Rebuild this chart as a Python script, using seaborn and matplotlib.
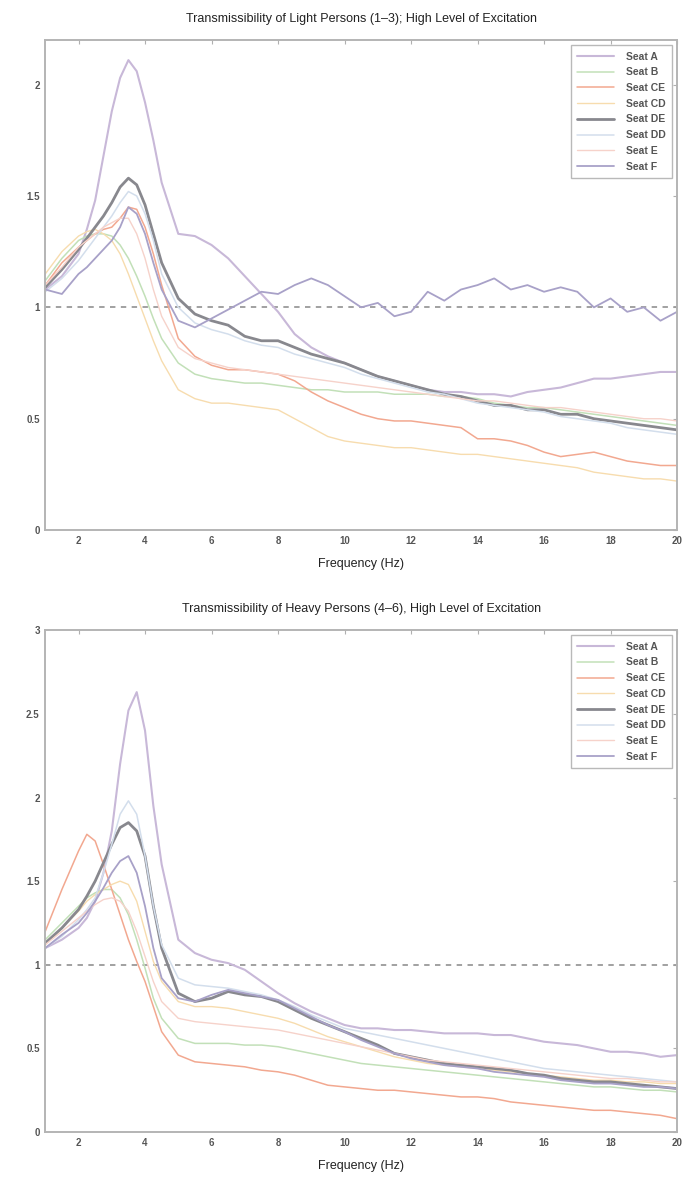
import matplotlib
matplotlib.use('Agg')
import matplotlib.pyplot as plt
import seaborn as sns
from matplotlib.ticker import FuncFormatter

# frequency grid (Hz) shared by every curve
freq = [1, 1.5, 2, 2.25, 2.5, 2.75, 3, 3.25, 3.5, 3.75, 4, 4.25, 4.5,
        5, 5.5, 6, 6.5, 7, 7.5, 8, 8.5, 9, 9.5, 10, 10.5, 11, 11.5, 12, 12.5,
        13, 13.5, 14, 14.5, 15, 15.5, 16, 16.5, 17, 17.5, 18, 18.5, 19, 19.5, 20]

seats = ['Seat A', 'Seat B', 'Seat CE', 'Seat CD', 'Seat DE', 'Seat DD', 'Seat E', 'Seat F']

# light persons (1-3)
light_a = [1.08, 1.14, 1.24, 1.35, 1.48, 1.68, 1.88, 2.03, 2.11, 2.06, 1.92, 1.75, 1.56,
           1.33, 1.32, 1.28, 1.22, 1.14, 1.06, 0.98, 0.88, 0.82, 0.78, 0.75, 0.72, 0.69, 0.67,
           0.65, 0.63, 0.62, 0.62, 0.61, 0.61, 0.60, 0.62, 0.63, 0.64, 0.66, 0.68, 0.68, 0.69,
           0.70, 0.71, 0.71]
light_b = [1.12, 1.22, 1.30, 1.32, 1.33, 1.33, 1.32, 1.28, 1.22, 1.14, 1.05, 0.95, 0.86,
           0.75, 0.70, 0.68, 0.67, 0.66, 0.66, 0.65, 0.64, 0.63, 0.63, 0.62, 0.62, 0.62, 0.61,
           0.61, 0.61, 0.60, 0.60, 0.59, 0.57, 0.56, 0.55, 0.55, 0.54, 0.53, 0.52, 0.51, 0.50,
           0.49, 0.48, 0.47]
light_ce = [1.10, 1.20, 1.27, 1.30, 1.33, 1.35, 1.36, 1.40, 1.45, 1.44, 1.36, 1.24, 1.10,
            0.86, 0.78, 0.74, 0.72, 0.72, 0.71, 0.70, 0.67, 0.62, 0.58, 0.55, 0.52, 0.50, 0.49,
            0.49, 0.48, 0.47, 0.46, 0.41, 0.41, 0.40, 0.38, 0.35, 0.33, 0.34, 0.35, 0.33, 0.31,
            0.30, 0.29, 0.29]
light_cd = [1.15, 1.25, 1.32, 1.34, 1.35, 1.33, 1.30, 1.24, 1.15, 1.05, 0.95, 0.85, 0.76,
            0.63, 0.59, 0.57, 0.57, 0.56, 0.55, 0.54, 0.50, 0.46, 0.42, 0.40, 0.39, 0.38, 0.37,
            0.37, 0.36, 0.35, 0.34, 0.34, 0.33, 0.32, 0.31, 0.30, 0.29, 0.28, 0.26, 0.25, 0.24,
            0.23, 0.23, 0.22]
light_de = [1.09, 1.17, 1.26, 1.31, 1.36, 1.41, 1.47, 1.54, 1.58, 1.55, 1.46, 1.33, 1.20,
            1.04, 0.97, 0.94, 0.92, 0.87, 0.85, 0.85, 0.82, 0.79, 0.77, 0.75, 0.72, 0.69, 0.67,
            0.65, 0.63, 0.61, 0.60, 0.58, 0.56, 0.56, 0.54, 0.54, 0.52, 0.52, 0.50, 0.49, 0.48,
            0.47, 0.46, 0.45]
light_dd = [1.07, 1.13, 1.21, 1.26, 1.31, 1.36, 1.41, 1.47, 1.52, 1.50, 1.42, 1.30, 1.15,
            1.00, 0.93, 0.90, 0.88, 0.85, 0.83, 0.82, 0.79, 0.77, 0.75, 0.73, 0.70, 0.68, 0.66,
            0.64, 0.62, 0.61, 0.59, 0.57, 0.56, 0.55, 0.54, 0.53, 0.51, 0.50, 0.49, 0.48, 0.46,
            0.45, 0.44, 0.43]
light_e = [1.10, 1.18, 1.27, 1.30, 1.33, 1.36, 1.38, 1.40, 1.40, 1.33, 1.22, 1.08, 0.96,
           0.82, 0.77, 0.75, 0.73, 0.72, 0.71, 0.70, 0.69, 0.68, 0.67, 0.66, 0.65, 0.64, 0.63,
           0.62, 0.61, 0.60, 0.59, 0.58, 0.58, 0.57, 0.56, 0.55, 0.55, 0.54, 0.53, 0.52, 0.51,
           0.50, 0.50, 0.49]
light_f = [1.08, 1.06, 1.15, 1.18, 1.22, 1.26, 1.30, 1.36, 1.45, 1.42, 1.33, 1.20, 1.08,
           0.94, 0.91, 0.95, 0.99, 1.03, 1.07, 1.06, 1.10, 1.13, 1.10, 1.05, 1.00, 1.02, 0.96,
           0.98, 1.07, 1.03, 1.08, 1.10, 1.13, 1.08, 1.10, 1.07, 1.09, 1.07, 1.00, 1.04, 0.98,
           1.00, 0.94, 0.98]

# heavy persons (4-6)
heavy_a = [1.10, 1.15, 1.22, 1.28, 1.38, 1.55, 1.80, 2.20, 2.52, 2.63, 2.40, 1.95, 1.60,
           1.15, 1.07, 1.03, 1.01, 0.97, 0.90, 0.83, 0.77, 0.72, 0.68, 0.64, 0.62, 0.62, 0.61,
           0.61, 0.60, 0.59, 0.59, 0.59, 0.58, 0.58, 0.56, 0.54, 0.53, 0.52, 0.50, 0.48, 0.48,
           0.47, 0.45, 0.46]
heavy_b = [1.15, 1.25, 1.35, 1.40, 1.43, 1.45, 1.45, 1.40, 1.30, 1.15, 0.98, 0.80, 0.68,
           0.56, 0.53, 0.53, 0.53, 0.52, 0.52, 0.51, 0.49, 0.47, 0.45, 0.43, 0.41, 0.40, 0.39,
           0.38, 0.37, 0.36, 0.35, 0.34, 0.33, 0.32, 0.31, 0.30, 0.29, 0.28, 0.27, 0.27, 0.26,
           0.25, 0.25, 0.24]
heavy_ce = [1.20, 1.45, 1.68, 1.78, 1.74, 1.60, 1.45, 1.30, 1.15, 1.02, 0.90, 0.75, 0.60,
            0.46, 0.42, 0.41, 0.40, 0.39, 0.37, 0.36, 0.34, 0.31, 0.28, 0.27, 0.26, 0.25, 0.25,
            0.24, 0.23, 0.22, 0.21, 0.21, 0.20, 0.18, 0.17, 0.16, 0.15, 0.14, 0.13, 0.13, 0.12,
            0.11, 0.10, 0.08]
heavy_cd = [1.12, 1.22, 1.32, 1.38, 1.42, 1.45, 1.48, 1.50, 1.48, 1.38, 1.20, 1.02, 0.90,
            0.78, 0.75, 0.75, 0.74, 0.72, 0.70, 0.68, 0.65, 0.61, 0.57, 0.54, 0.51, 0.48, 0.45,
            0.43, 0.41, 0.40, 0.39, 0.38, 0.37, 0.36, 0.35, 0.34, 0.33, 0.32, 0.31, 0.31, 0.30,
            0.30, 0.29, 0.29]
heavy_de = [1.13, 1.22, 1.33, 1.41, 1.50, 1.61, 1.72, 1.82, 1.85, 1.80, 1.65, 1.35, 1.10,
            0.83, 0.78, 0.80, 0.84, 0.82, 0.81, 0.78, 0.73, 0.68, 0.64, 0.60, 0.56, 0.52, 0.47,
            0.45, 0.43, 0.41, 0.40, 0.39, 0.38, 0.37, 0.35, 0.34, 0.32, 0.31, 0.30, 0.30, 0.29,
            0.28, 0.27, 0.26]
heavy_dd = [1.10, 1.17, 1.27, 1.33, 1.40, 1.55, 1.72, 1.90, 1.98, 1.90, 1.65, 1.35, 1.12,
            0.92, 0.88, 0.87, 0.86, 0.84, 0.82, 0.79, 0.75, 0.70, 0.66, 0.62, 0.60, 0.58, 0.56,
            0.54, 0.52, 0.50, 0.48, 0.46, 0.44, 0.42, 0.40, 0.38, 0.37, 0.36, 0.35, 0.34, 0.33,
            0.32, 0.31, 0.30]
heavy_e = [1.12, 1.20, 1.28, 1.32, 1.36, 1.39, 1.40, 1.38, 1.32, 1.20, 1.05, 0.90, 0.78,
           0.68, 0.66, 0.65, 0.64, 0.63, 0.62, 0.61, 0.59, 0.57, 0.55, 0.53, 0.51, 0.49, 0.47,
           0.45, 0.43, 0.42, 0.41, 0.40, 0.39, 0.38, 0.37, 0.36, 0.35, 0.34, 0.33, 0.32, 0.32,
           0.31, 0.30, 0.30]
heavy_f = [1.10, 1.18, 1.25, 1.31, 1.38, 1.46, 1.55, 1.62, 1.65, 1.55, 1.35, 1.10, 0.92,
           0.80, 0.78, 0.82, 0.85, 0.83, 0.81, 0.79, 0.74, 0.69, 0.64, 0.60, 0.55, 0.51, 0.47,
           0.44, 0.42, 0.40, 0.39, 0.38, 0.36, 0.35, 0.34, 0.33, 0.31, 0.30, 0.29, 0.29, 0.28,
           0.27, 0.27, 0.26]

light = [light_a, light_b, light_ce, light_cd, light_de, light_dd, light_e, light_f]
heavy = [heavy_a, heavy_b, heavy_ce, heavy_cd, heavy_de, heavy_dd, heavy_e, heavy_f]

# faded scan colours
colors = ['#c8b8d8', '#c2e0b8', '#f2a890', '#f7dcae', '#88888e', '#d3deec', '#f6d2ca', '#a8a1c8']
widths = [1.5, 1.1, 1.1, 1.0, 2.0, 1.1, 1.0, 1.3]

sns.set_style('white')
plt.rcParams['font.family'] = ['Liberation Sans', 'DejaVu Sans']

fig = plt.figure(figsize=(6.86, 11.78), dpi=100)
ax1 = fig.add_axes([0.066, 0.550, 0.921, 0.416])
ax2 = fig.add_axes([0.066, 0.039, 0.921, 0.426])

panels = [
    (ax1, light, 'Transmissibility of Light Persons (1\u20133); High Level of Excitation', 2.2),
    (ax2, heavy, 'Transmissibility of Heavy Persons (4\u20136), High Level of Excitation', 3.0),
]

for ax, data, title, ytop in panels:
    ax.axhline(1, color='#9a9a9a', lw=1.3, ls=(0, (3, 3)), zorder=1)
    for name, vals, c, w in zip(seats, data, colors, widths):
        sns.lineplot(x=freq, y=vals, ax=ax, color=c, lw=w, label=name, zorder=2)
    ax.set_xlim(1, 20)
    ax.set_ylim(0, ytop)
    ax.set_xticks(range(2, 21, 2))
    ax.set_yticks([v / 2 for v in range(int(ytop * 2) + 1)])
    ax.yaxis.set_major_formatter(FuncFormatter(lambda v, p: '%g' % v))
    ax.tick_params(direction='in', top=True, right=True, length=3, width=0.8,
                   color='#b0b0b0', labelsize=7, labelcolor='#555555', pad=4)
    for lab in ax.get_xticklabels() + ax.get_yticklabels():
        lab.set_fontweight('bold')
    for sp in ax.spines.values():
        sp.set_color('#b4b4b4')
        sp.set_linewidth(1.4)
    ax.set_title(title, fontsize=9, color='#222222', pad=13)
    ax.set_xlabel('Frequency (Hz)', fontsize=9, color='#222222', labelpad=9)
    ax.set_ylabel('')
    leg = ax.legend(loc='upper right', frameon=True, fancybox=False,
                    edgecolor='#a8a8a8', labelspacing=0.55, handlelength=3.6,
                    handletextpad=1.1, borderpad=0.6, borderaxespad=0.5,
                    prop={'weight': 'bold', 'size': 7.5})
    leg.get_frame().set_linewidth(1.0)
    for t in leg.get_texts():
        t.set_color('#555555')

fig.savefig('out.png', dpi=100)
